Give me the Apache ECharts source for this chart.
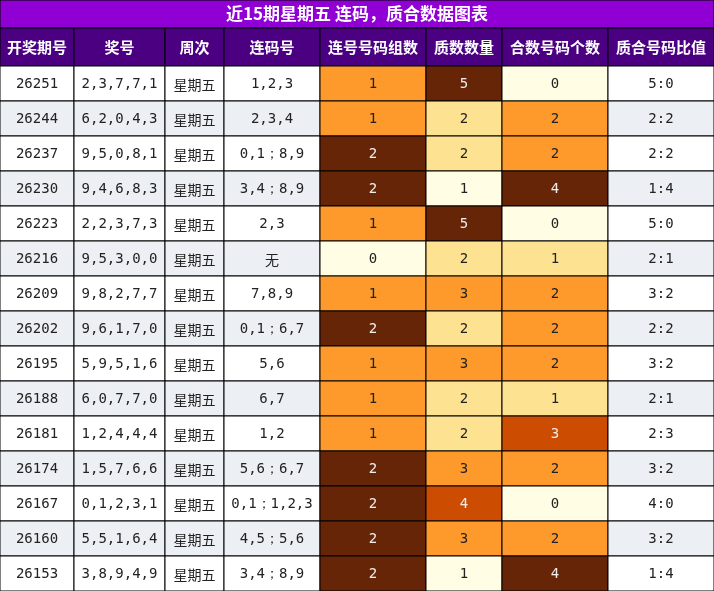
<!DOCTYPE html>
<html><head><meta charset="utf-8">
<script src="https://cdn.jsdelivr.net/npm/echarts@6/dist/echarts.min.js"></script>
<style>html,body{margin:0;padding:0;background:#fff}#c{width:714px;height:591px}</style>
</head><body><div id="c"></div>
<script>
var title = '近15期星期五 连码，质合数据图表';
var headers = ['开奖期号','奖号','周次','连码号','连号号码组数','质数数量','合数号码个数','质合号码比值'];
var issues = ['26251','26244','26237','26230','26223','26216','26209','26202','26195','26188','26181','26174','26167','26160','26153'];
var draws = ['2,3,7,7,1','6,2,0,4,3','9,5,0,8,1','9,4,6,8,3','2,2,3,7,3','9,5,3,0,0','9,8,2,7,7','9,6,1,7,0','5,9,5,1,6','6,0,7,7,0','1,2,4,4,4','1,5,7,6,6','0,1,2,3,1','5,5,1,6,4','3,8,9,4,9'];
var weekdays = ['星期五','星期五','星期五','星期五','星期五','星期五','星期五','星期五','星期五','星期五','星期五','星期五','星期五','星期五','星期五'];
var consec = ['1,2,3','2,3,4','0,1；8,9','3,4；8,9','2,3','无','7,8,9','0,1；6,7','5,6','6,7','1,2','5,6；6,7','0,1；1,2,3','4,5；5,6','3,4；8,9'];
var groups = [1,1,2,2,1,0,1,2,1,1,1,2,2,2,2];
var primes = [5,2,2,1,5,2,3,2,3,2,2,3,4,3,1];
var composites = [0,2,2,4,0,1,2,2,2,1,3,2,0,2,4];
var ratios = ['5:0','2:2','2:2','1:4','5:0','2:1','3:2','2:2','3:2','2:1','2:3','3:2','4:0','3:2','1:4'];

var colEdges = [0,74,165,224,320,426,502,608,714];
var palette = ['#fffde3','#fde391','#fd9a2b','#cc4c02','#662506'];
var W = 714, TOP = 66;

var data = [];
issues.forEach(function(_, r){
  var stripe = r % 2 ? '#eceff3' : '#ffffff';
  var cells = [
    [issues[r], stripe], [draws[r], stripe], [weekdays[r], stripe], [consec[r], stripe],
    [String(groups[r]), palette[groups[r]*2], groups[r]*2],
    [String(primes[r]), palette[primes[r]-1], primes[r]-1],
    [String(composites[r]), palette[composites[r]], composites[r]],
    [ratios[r], stripe]
  ];
  cells.forEach(function(c, ci){
    var idx = c[2];
    data.push({value:[ci, r], text:c[0], fill:c[1], tc:(idx>=3?'#eeeeee':'#222')});
  });
});

var chart = echarts.init(document.getElementById('c'));
var mono = '"DejaVu Sans Mono", monospace';
var graphics = [
  {type:'rect', shape:{x:0,y:0,width:W,height:28}, style:{fill:'#9000d4', stroke:'#000', lineWidth:1}},
  {type:'text', x:W/2, y:14, style:{text:title, fill:'#fff', font:'bold 17px "Noto Sans CJK SC"', align:'center', verticalAlign:'middle'}}
];
headers.forEach(function(h, i){
  graphics.push({type:'rect', shape:{x:colEdges[i], y:28, width:colEdges[i+1]-colEdges[i], height:TOP-28}, style:{fill:'#4b0082', stroke:'#000', lineWidth:1}});
  graphics.push({type:'text', x:(colEdges[i]+colEdges[i+1])/2, y:47, style:{text:h, fill:'#fff', font:'bold 15px "Noto Sans CJK SC"', align:'center', verticalAlign:'middle'}});
});

chart.setOption({
  animation:false,
  grid:{left:0,right:0,top:TOP,bottom:0},
  xAxis:{type:'value', min:0, max:8, show:false},
  yAxis:{type:'category', data:issues, inverse:true, show:false},
  graphic:graphics,
  series:[{
    type:'custom',
    data:data,
    renderItem:function(params, api){
      var d = data[params.dataIndex];
      var ci = api.value(0), r = api.value(1);
      var yc = api.coord([0, r])[1];
      var h = api.size([0,1])[1];
      var x0 = colEdges[ci], x1 = colEdges[ci+1];
      var isCJK = /[\u4e00-\u9fff]/.test(d.text) && d.text.indexOf(',')<0;
      return {type:'group', children:[
        {type:'rect', shape:{x:x0, y:yc-h/2, width:x1-x0, height:h}, style:{fill:d.fill, stroke:'#000', lineWidth:1}},
        {type:'text', x:(x0+x1)/2, y:yc+1, style:{text:d.text, fill:d.tc, align:'center', verticalAlign:'middle',
          font: isCJK ? '14px "Noto Sans CJK SC"' : '14px ' + mono}}
      ]};
    }
  }]
});
</script></body></html>
